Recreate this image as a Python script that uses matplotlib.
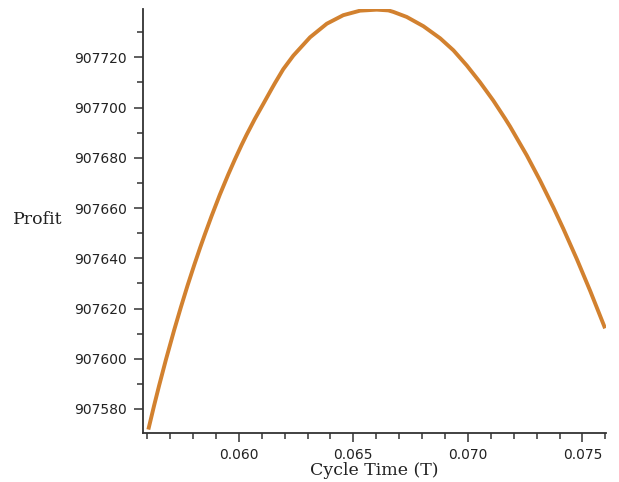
import matplotlib.pyplot as plt
from matplotlib.ticker import MultipleLocator, FormatStrFormatter

# values
cycle_time = [0.05605, 0.05630, 0.05652, 0.05682, 0.05718, 0.05747, 0.05776,
              0.05806, 0.05831, 0.05852, 0.05881, 0.05917, 0.05954, 0.05983,
              0.06012, 0.06034, 0.06070, 0.06107, 0.06143, 0.06158, 0.06194,
              0.06238, 0.06311, 0.06384, 0.06456, 0.06529, 0.06602, 0.06653,
              0.06675, 0.06733, 0.06806, 0.06879, 0.06937, 0.06995, 0.07053,
              0.07111, 0.07162, 0.07184, 0.07257, 0.07315, 0.07373, 0.07417,
              0.07476, 0.07534, 0.07599]
profit = [907571.8, 907581.3, 907589.3, 907599.7, 907611.5, 907620.5, 907629.1,
          907637.5, 907644.2, 907649.6, 907656.8, 907665.3, 907673.4, 907679.4,
          907685.1, 907689.2, 907695.5, 907701.5, 907707.4, 907709.8, 907715.3,
          907720.7, 907728.0, 907733.4, 907736.8, 907738.6, 907739.0, 907738.7,
          907738.1, 907736.1, 907732.4, 907727.6, 907722.8, 907716.8, 907710.1,
          907702.8, 907695.7, 907692.5, 907681.0, 907671.0, 907660.3, 907651.7,
          907639.6, 907627.0, 907612.1]

fig = plt.figure(figsize=(6.19, 4.82), dpi=100)
ax = fig.add_axes([0.2315, 0.101, 0.7475, 0.880])

ax.plot(cycle_time, profit, color='#D2812F', linewidth=2.8,
        solid_joinstyle='round', solid_capstyle='butt')

ax.set_xlim(0.05583, 0.07603)
ax.set_ylim(907570.3, 907739.2)

ax.spines['top'].set_visible(False)
ax.spines['right'].set_visible(False)
for s in ['left', 'bottom']:
    ax.spines[s].set_linewidth(1.3)
    ax.spines[s].set_color('#333333')

ax.xaxis.set_major_locator(MultipleLocator(0.005))
ax.xaxis.set_minor_locator(MultipleLocator(0.001))
ax.xaxis.set_major_formatter(FormatStrFormatter('%.3f'))
ax.yaxis.set_major_locator(MultipleLocator(20))
ax.yaxis.set_minor_locator(MultipleLocator(10))
ax.yaxis.set_major_formatter(FormatStrFormatter('%d'))

ax.tick_params(axis='both', which='major', length=6.5, width=1.1, color='#333333',
               labelsize=10, labelcolor='#222222')
ax.tick_params(axis='both', which='minor', length=4.5, width=1.1, color='#333333')
ax.tick_params(axis='y', which='major', pad=5.5)
ax.tick_params(axis='x', which='major', pad=4)

ax.set_xlabel('Cycle Time (T)', family='DejaVu Serif', fontsize=12.5,
              color='#222222', labelpad=0)
fig.text(13 / 619, 1 - 220 / 482, 'Profit', family='DejaVu Serif', fontsize=12.5,
         color='#222222', ha='left', va='center')

fig.savefig('out.png', dpi=100)
